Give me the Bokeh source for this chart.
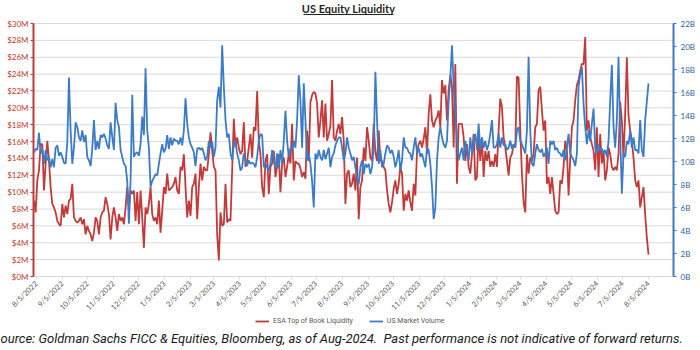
import math
import pandas as pd
from bokeh.plotting import figure
from bokeh.models import (Range1d, LinearAxis, FixedTicker, PrintfTickFormatter,
                          CustomJSTickFormatter, Legend, LegendItem, Label, BoxAnnotation)
from bokeh.embed import file_html
from bokeh.resources import INLINE

# ESA Top of Book Liquidity, $M
esa = [
    9.0, 7.6, 11.4, 12.6, 15.7, 15.7, 10.2, 13.4, 16.1, 13.7, 10.6, 8.6, 8.2, 7.6, 6.6, 6.2, 6.0, 8.6, 7.0, 8.4,
    7.4, 9.0, 9.2, 11.0, 7.0, 6.6, 6.4, 6.6, 7.0, 6.2, 6.8, 5.0, 6.0, 5.4, 5.0, 4.2, 5.2, 7.0, 6.6, 5.0,
    7.0, 7.6, 7.8, 9.4, 8.6, 7.4, 4.4, 7.0, 8.2, 7.0, 5.4, 7.4, 6.6, 7.0, 6.2, 8.2, 10.6, 8.2, 10.2, 9.8,
    10.2, 6.6, 10.0, 6.2, 10.2, 7.0, 3.4, 8.2, 7.4, 8.6, 10.6, 7.4, 6.6, 7.0, 6.2, 9.0, 5.2, 7.8, 10.6, 9.8,
    12.2, 10.2, 10.4, 10.6, 11.0, 11.8, 10.2, 9.8, 13.0, 12.6, 14.5,
    10.6, 7.0, 9.0, 7.2, 10.6, 11.0, 12.2, 6.8, 10.6, 13.4, 11.4, 13.0, 12.6, 12.6, 14.5, 17.1, 14.9, 13.0, 12.6, 5.0,
    1.9, 7.6, 6.0, 6.2, 11.0, 6.4, 6.8, 6.6, 12.6, 18.7, 15.3, 16.5, 15.3, 14.5, 14.9, 18.3, 13.0, 13.7, 15.3, 16.9,
    14.1, 17.7, 17.3, 22.0, 16.1, 14.5, 10.6, 9.4, 13.7, 14.5, 9.8, 13.0, 13.4, 14.9, 11.8, 13.0, 14.5, 10.0, 13.4, 14.1,
    11.8, 13.0, 14.5, 13.4, 18.1, 11.4, 13.7, 13.4, 13.4, 12.8, 11.8, 12.4, 11.6, 17.3, 13.7, 20.7, 21.5, 21.9, 21.7, 20.5,
    16.5, 18.5, 20.9, 16.5, 20.5, 16.1, 16.9, 17.9, 23.3, 16.5, 16.1, 17.3, 18.1,
    16.9, 18.9, 16.1, 8.6, 12.2, 12.6, 10.6, 11.0, 12.2, 10.2, 14.1, 6.8, 10.6, 11.4, 15.3, 13.7, 17.7, 16.1, 14.1, 13.7,
    18.1, 14.7, 13.7, 17.3, 13.7, 13.7, 13.0, 12.6, 10.2, 8.6, 7.6, 8.8, 10.4, 11.4, 9.8, 11.0, 13.0, 12.2, 7.8, 9.8,
    9.0, 10.2, 8.8, 7.8, 11.0, 9.6, 14.9, 15.7, 16.1, 15.3, 16.3, 17.7, 14.5, 19.3, 21.6, 18.5, 17.7, 18.5, 18.9, 19.7,
    17.7, 23.3, 21.7, 22.7, 18.5, 22.1, 23.9, 22.5, 15.3, 25.2, 11.0, 18.1, 18.1, 18.1, 16.5, 13.7, 15.7, 13.0, 12.2, 14.5,
    16.9, 11.4, 11.8, 17.3, 13.7, 16.5, 11.8, 14.9, 13.7, 14.9, 13.0, 13.7, 13.0,
    14.5, 13.0, 17.3, 21.1, 20.1, 16.5, 15.3, 13.7, 12.0, 14.1, 14.5, 15.7, 15.3, 23.7, 23.6, 17.3, 12.2, 8.8, 7.6, 14.5,
    12.2, 14.1, 13.7, 14.5, 17.7, 18.1, 22.1, 22.5, 19.7, 17.3, 18.5, 11.0, 11.8, 9.8, 11.8, 9.8, 7.8, 7.4, 7.6, 11.4,
    11.0, 13.0, 16.1, 14.9, 9.6, 13.9, 17.7, 18.5, 20.9, 22.7, 23.3, 24.4, 25.2, 25.2, 28.4, 17.3, 18.5, 16.5, 15.7, 14.9,
    12.6, 17.7, 11.8, 16.9, 13.4, 14.9, 11.4, 12.6, 15.3, 14.5, 13.0, 12.6, 13.0, 12.6, 14.5, 20.7, 18.5, 14.1, 19.3, 26.0,
    19.1, 17.3, 16.1, 14.1, 11.4, 10.6, 11.4, 8.2, 9.4, 10.6, 7.4, 4.6, 2.6,
]

# US Market Volume, B shares
vol = [
    10.8, 11.1, 11.0, 12.5, 10.7, 11.1, 9.8, 11.0, 10.1, 10.4, 9.5, 10.2, 9.5, 11.2, 11.4, 10.5, 10.8, 10.4, 9.9, 9.8,
    11.7, 17.3, 12.7, 9.8, 11.2, 13.4, 13.0, 12.1, 11.8, 12.7, 11.7, 12.3, 10.4, 10.1, 9.6, 11.1, 13.6, 11.0, 11.8, 11.1,
    12.3, 12.1, 12.4, 12.0, 11.4, 11.1, 13.4, 12.1, 11.0, 15.1, 13.6, 13.0, 11.0, 10.4, 9.8, 9.6, 8.3, 4.6, 8.3, 15.8,
    10.4, 10.7, 10.8, 10.5, 11.5, 13.9, 12.3, 18.1, 12.7, 11.2, 7.8, 8.3, 8.6, 8.9, 8.8, 9.8, 10.7, 11.5, 10.8, 11.1,
    12.3, 11.1, 12.1, 11.4, 12.0, 11.8, 11.8, 11.5, 12.1, 11.4, 12.7,
    15.5, 13.3, 12.1, 11.5, 11.2, 10.8, 9.6, 11.1, 11.2, 11.0, 11.2, 10.7, 10.1, 10.4, 11.8, 11.2, 11.7, 10.4, 11.2, 15.3,
    16.5, 14.7, 20.1, 16.5, 13.6, 12.1, 12.4, 10.7, 10.1, 11.5, 11.8, 10.7, 10.1, 9.2, 9.5, 10.7, 10.1, 9.6, 10.1, 9.8,
    9.9, 9.8, 9.5, 10.4, 11.8, 12.4, 12.3, 9.5, 9.8, 9.5, 9.2, 9.8, 11.0, 10.1, 9.4, 10.7, 9.4, 11.0, 9.8, 11.8,
    14.4, 11.8, 10.4, 11.2, 11.0, 11.8, 11.2, 13.6, 17.5, 15.3, 11.2, 16.8, 13.6, 10.1, 10.7, 9.8, 8.3, 6.0, 10.7, 10.2,
    11.0, 10.4, 10.1, 11.0, 10.2, 10.7, 11.2, 9.5, 10.4, 10.7, 11.4, 11.8, 12.1,
    12.1, 11.2, 10.1, 10.7, 12.1, 11.2, 10.7, 10.1, 10.4, 9.5, 8.6, 8.0, 9.5, 10.1, 8.9, 9.8, 9.5, 9.8, 8.9, 9.5,
    11.2, 17.8, 13.6, 9.8, 11.0, 9.5, 9.8, 10.7, 11.4, 11.2, 10.7, 11.0, 10.4, 9.5, 10.1, 11.0, 9.2, 10.1, 12.1, 11.2,
    11.2, 10.8, 10.7, 10.1, 11.2, 12.1, 10.7, 11.2, 10.4, 10.7, 10.1, 9.5, 11.2, 11.0, 9.8, 7.8, 5.0, 6.0, 10.1, 12.1,
    13.0, 12.1, 11.5, 11.2, 11.8, 15.3, 17.3, 20.1, 16.5, 13.9, 12.1, 10.1, 10.7, 11.2, 10.1, 11.8, 11.0, 10.1, 12.1, 10.7,
    11.8, 12.4, 11.0, 13.3, 11.0, 12.1, 11.2, 11.8, 11.0, 11.5, 12.4, 13.6, 11.2,
    11.2, 11.5, 12.4, 11.2, 12.1, 11.4, 11.5, 11.0, 11.2, 11.8, 11.1, 11.5, 11.2, 12.7, 13.0, 11.8, 11.5, 11.1, 10.7, 12.7,
    19.1, 12.7, 9.8, 9.6, 10.7, 11.5, 11.0, 10.8, 11.1, 10.4, 10.7, 11.2, 9.8, 11.8, 11.5, 11.8, 11.0, 11.2, 10.8, 10.7,
    10.4, 11.0, 10.1, 11.2, 12.4, 10.7, 10.4, 10.1, 9.6, 10.7, 16.5, 17.6, 18.2, 15.0, 13.0, 11.5, 12.7, 11.8, 13.3, 14.6,
    11.2, 10.7, 11.5, 11.0, 11.1, 10.7, 11.0, 10.4, 11.8, 15.3, 18.4, 13.0, 11.2, 13.6, 19.1, 12.4, 7.2, 10.7, 10.4, 11.8,
    11.5, 12.7, 11.2, 12.1, 11.0, 11.0, 10.7, 13.6, 11.0, 10.4, 13.6, 15.2, 16.8,
]

dates = pd.date_range("2022-08-02", "2024-08-05", periods=len(esa))
tick_dates = pd.date_range("2022-08-05", "2024-08-05", freq=pd.DateOffset(months=1))
left_ticks = list(range(0, 31, 2))
right_ticks = list(range(0, 23, 2))

title_text = "US Equity Liquidity"
series_names = ["ESA Top of Book Liquidity", "US Market Volume"]
footer_text = ("ource: Goldman Sachs FICC & Equities, Bloomberg, as of Aug-2024.\u00a0 "
               "Past performance is not indicative of forward returns.")

RED = "#C23A3A"
BLUE = "#3C7BC6"
RED_TXT = "#C0392B"
BLUE_TXT = "#2F5F9E"
FONT = "Lato"

W, H = 700, 350
# layout geometry (canvas pixels): plot box 33..673 x 23..276
PLOT_L, PLOT_R, PLOT_T, PLOT_B = 33, 673, 23, 276
PX_PER_DAY = 612 / 731
REF_DATE, REF_PX = pd.Timestamp("2022-08-05"), 36


def xdate(px):
    return REF_DATE + pd.Timedelta(days=(px - REF_PX) / PX_PER_DAY)


def ms(ts):
    return ts.value / 1e6


def lval(py):
    return (PLOT_B - py) * 30 / (PLOT_B - PLOT_T)


def rval(py):
    return (PLOT_B - py) * 22 / (PLOT_B - PLOT_T)


p = figure(width=W, height=H, x_axis_type="datetime", output_backend="svg",
           toolbar_location=None, min_border=0,
           x_range=Range1d(xdate(0), xdate(W)),
           y_range=Range1d(lval(H), lval(0)))
p.outline_line_color = None
p.background_fill_color = "white"
p.border_fill_color = "white"
p.extra_y_ranges = {"vol": Range1d(rval(H), rval(0))}
p.xgrid.visible = False
p.ygrid.visible = False

# horizontal grid lines at the left-axis ticks
p.segment(x0=[ms(xdate(PLOT_L))] * len(left_ticks), x1=[ms(xdate(PLOT_R))] * len(left_ticks),
          y0=left_ticks, y1=left_ticks, line_color="#DADADA", line_width=1)

r_red = p.line(dates, esa, line_color=RED, line_width=1.8)
r_blue = p.line(dates, vol, line_color=BLUE, line_width=1.8, y_range_name="vol")

# left axis
ya = p.yaxis[0]
ya.fixed_location = ms(xdate(PLOT_L))
ya.bounds = (0, 30)
ya.ticker = FixedTicker(ticks=left_ticks)
ya.formatter = PrintfTickFormatter(format="$%dM")
ya.axis_line_color = RED
ya.axis_line_width = 2
ya.major_tick_line_color = RED
ya.major_tick_in = 0
ya.major_tick_out = 3
ya.minor_tick_line_color = None
ya.major_label_text_color = RED_TXT
ya.major_label_text_font = FONT
ya.major_label_text_font_size = "8px"
ya.major_label_standoff = 2

# right axis
ra = LinearAxis(y_range_name="vol")
ra.fixed_location = ms(xdate(PLOT_R))
ra.bounds = (0, 22)
ra.ticker = FixedTicker(ticks=right_ticks)
ra.formatter = PrintfTickFormatter(format="%dB")
ra.axis_line_color = BLUE
ra.axis_line_width = 2
ra.major_tick_line_color = BLUE
ra.major_tick_in = 0
ra.major_tick_out = 3
ra.minor_tick_line_color = None
ra.major_label_text_color = BLUE_TXT
ra.major_label_text_font = FONT
ra.major_label_text_font_size = "8px"
ra.major_label_standoff = 4
p.add_layout(ra, "right")

# bottom axis
xa = p.xaxis[0]
xa.fixed_location = 0
xa.bounds = (ms(xdate(PLOT_L)), ms(xdate(PLOT_R)))
xa.ticker = FixedTicker(ticks=[ms(t) for t in tick_dates])
xa.formatter = CustomJSTickFormatter(code="""
const d = new Date(tick);
return (d.getUTCMonth() + 1) + "/" + d.getUTCDate() + "/" + d.getUTCFullYear();
""")
xa.axis_line_color = "#D9D9D9"
xa.major_tick_line_color = "#D9D9D9"
xa.major_tick_in = 0
xa.major_tick_out = 3
xa.minor_tick_line_color = None
xa.major_label_orientation = math.pi / 4
xa.major_label_text_color = "#595959"
xa.major_label_text_font = FONT
xa.major_label_text_font_size = "7.5px"
xa.major_label_standoff = 3

# title with underline
p.add_layout(Label(x=348, y=H - 8, x_units="screen", y_units="screen", text=title_text,
                   text_align="center", text_baseline="middle", text_font=FONT,
                   text_font_style="bold", text_font_size="11px", text_color="#262626"))
p.add_layout(BoxAnnotation(left=303, right=393, top=H - 13.5, bottom=H - 14.5,
                           left_units="screen", right_units="screen",
                           top_units="screen", bottom_units="screen",
                           fill_color="#262626", fill_alpha=1, line_color=None))

legend = Legend(items=[LegendItem(label=series_names[0], renderers=[r_red]),
                       LegendItem(label=series_names[1], renderers=[r_blue])],
                location=(255, 25), orientation="horizontal",
                label_text_font="Roboto", label_text_font_size="7px",
                label_text_color="#595959", glyph_width=14, glyph_height=8,
                label_height=8, label_standoff=4, spacing=16, padding=0, margin=0,
                border_line_color=None, background_fill_alpha=0)
p.add_layout(legend)

p.add_layout(Label(x=0, y=H - 338, x_units="screen", y_units="screen", text=footer_text,
                   text_align="left", text_baseline="middle", text_font="Roboto",
                   text_font_style="italic", text_font_size="13px", text_color="#1A1A1A"))

open("out.html", "w").write(file_html(p, INLINE))
